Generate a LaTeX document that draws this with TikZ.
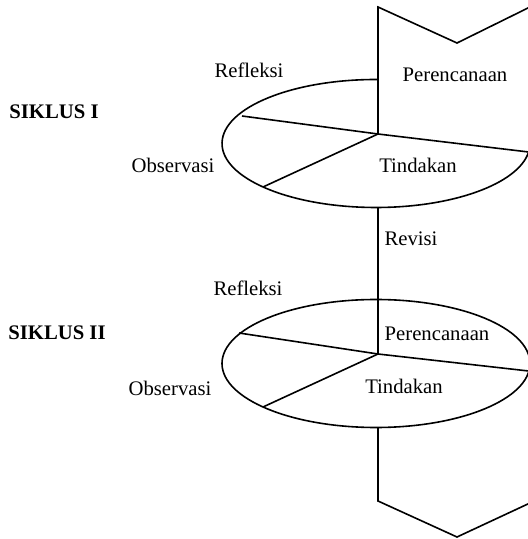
\documentclass[tikz,border=0pt]{standalone}
\usepackage{fontspec}
\setmainfont{Liberation Serif}
\begin{document}
\begin{tikzpicture}[x=1pt,y=1pt,
  ln/.style={line width=1.6pt, line join=miter},
  lbl/.style={inner sep=0pt, font=\fontsize{20.7}{24}\selectfont},
  ttl/.style={inner sep=0pt, font=\fontsize{20.7}{24}\selectfont\bfseries}]
\useasboundingbox (0,0) rectangle (528,539);
\clip (0,0) rectangle (528,539);
% cycle I
\coordinate (f1a) at (378,532);
\coordinate (f1b) at (457,496);
\coordinate (f1c) at (530,532);
\coordinate (c1) at (378,405);
\coordinate (c1l) at (242,423);
\coordinate (c1d) at (263,352);
\coordinate (c1r) at (528.6,387);
\coordinate (e1top) at (377.9,459.5);
\coordinate (e1bot) at (378,331.5);
\draw[ln] (f1c) -- (f1b) -- (f1a) -- (c1);
\draw[ln] (e1top) arc[start angle=89.3, end angle=352.4, x radius=154pt, y radius=64pt];
\draw[ln] (c1l) -- (c1) -- (c1r);
\draw[ln] (c1) -- (c1d);
% revision line
\coordinate (c2) at (378,185);
\draw[ln] (e1bot) -- (c2);
% cycle II
\draw[ln] (376,175.5) ellipse[x radius=154pt, y radius=64pt];
\coordinate (c2l) at (239,206);
\coordinate (c2d) at (263,132);
\coordinate (c2r) at (528.6,168);
\coordinate (e2bot) at (378,111.5);
\coordinate (f2a) at (378,38);
\coordinate (f2b) at (457,2);
\coordinate (f2c) at (530,36);
\draw[ln] (c2l) -- (c2) -- (c2r);
\draw[ln] (c2) -- (c2d);
\draw[ln] (e2bot) -- (f2a) -- (f2b) -- (f2c);
% labels
\node[lbl] (ref1) at (249,469) {Refleksi};
\node[lbl] (per1) at (455,464) {Perencanaan};
\node[ttl] (sik1) at (54,427) {SIKLUS I};
\node[lbl] (obs1) at (173,374) {Observasi};
\node[lbl] (tin1) at (418,374) {Tindakan};
\node[lbl] (rev) at (411,300) {Revisi};
\node[lbl] (ref2) at (248,251) {Refleksi};
\node[ttl] (sik2) at (57,206) {SIKLUS II};
\node[lbl] (obs2) at (170,151) {Observasi};
\node[lbl] (per2) at (437,205) {Perencanaan};
\node[lbl] (tin2) at (404,153) {Tindakan};
\end{tikzpicture}
\end{document}
